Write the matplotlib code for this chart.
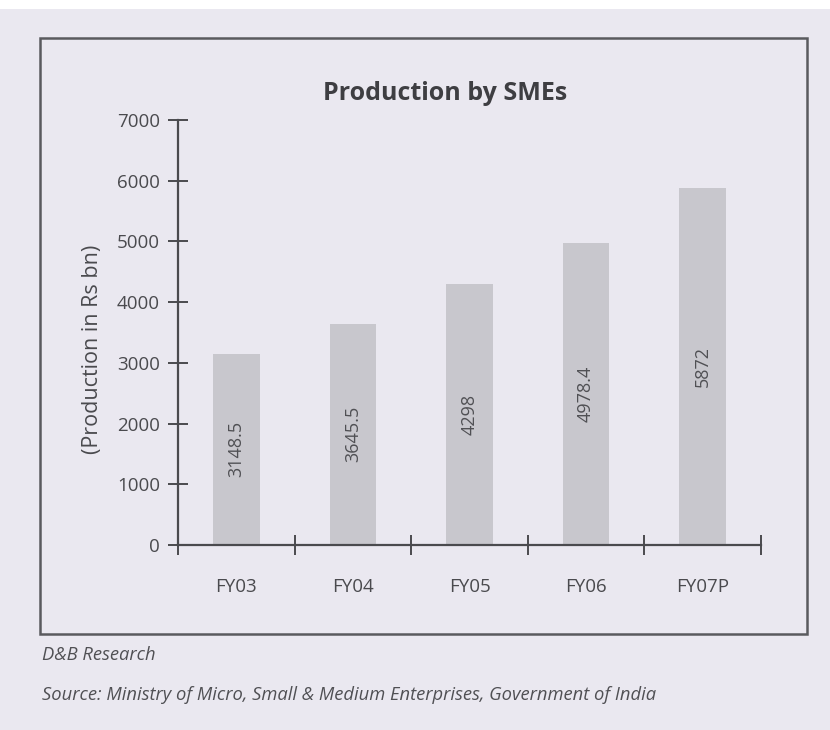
import matplotlib.pyplot as plt
from matplotlib.patches import Rectangle

years = ["FY03", "FY04", "FY05", "FY06", "FY07P"]
production = [3148.5, 3645.5, 4298, 4978.4, 5872]
value_labels = ["3148.5", "3645.5", "4298", "4978.4", "5872"]
yticks = [0, 1000, 2000, 3000, 4000, 5000, 6000, 7000]

bg = "#eae8f0"
bar_color = "#c8c7cd"
ink = "#4a4a4e"

plt.rcParams['font.family'] = ['Open Sans', 'DejaVu Sans']

fig = plt.figure(figsize=(8.3, 7.3), dpi=100, facecolor=bg)

# white scan margin at the top
fig.patches.append(Rectangle((0, 1 - 9 / 730), 1, 9 / 730, transform=fig.transFigure,
                             facecolor="white", edgecolor="none"))

# frame round the chart
fig.patches.append(Rectangle((40 / 830, 1 - 634 / 730), 767 / 830, 596 / 730,
                             transform=fig.transFigure, fill=False,
                             edgecolor="#5a5a5e", linewidth=1.8))

ax = fig.add_axes([178 / 830, 1 - 545 / 730, 583 / 830, 425 / 730])
ax.set_facecolor(bg)

x = list(range(len(years)))
ax.bar(x, production, width=0.40, color=bar_color, zorder=2)

for xi, v, lab in zip(x, production, value_labels):
    ax.text(xi, v / 2, lab, rotation=90, ha="center", va="center",
            fontsize=13, color="#505054", zorder=3)

ax.set_xlim(-0.5, len(years) - 0.5)
ax.set_ylim(0, 7000)
ax.set_yticks(yticks)
ax.set_yticklabels([str(t) for t in yticks])
ax.set_xticks(x)
ax.set_xticklabels(years)
ax.set_xticks([i - 0.5 for i in range(len(years) + 1)], minor=True)

ax.tick_params(axis="x", which="major", length=0, pad=24, labelsize=13.5, labelcolor=ink)
ax.tick_params(axis="x", which="minor", direction="inout", length=14, width=1.4, color=ink)
ax.tick_params(axis="y", direction="inout", length=14, width=1.4, color=ink,
               pad=6, labelsize=13.5, labelcolor=ink)

for side in ["top", "right"]:
    ax.spines[side].set_visible(False)
for side in ["left", "bottom"]:
    ax.spines[side].set_color(ink)
    ax.spines[side].set_linewidth(1.6)

ax.set_ylabel("(Production in Rs bn)", fontsize=15.5, color=ink)
ax.yaxis.set_label_coords(-0.128, 0.46)

fig.text(445 / 830, 1 - 94 / 730, "Production by SMEs", ha="center", va="center",
         fontsize=18, fontweight="bold", color="#3e3e42")

fig.text(42 / 830, 1 - 655 / 730, "D&B Research", ha="left", va="center",
         fontsize=13.2, style="italic", color="#505054")
fig.text(42 / 830, 1 - 695 / 730,
         "Source: Ministry of Micro, Small & Medium Enterprises, Government of India",
         ha="left", va="center", fontsize=13.2, style="italic", color="#505054")

fig.savefig("out.png", dpi=100, facecolor=bg)
